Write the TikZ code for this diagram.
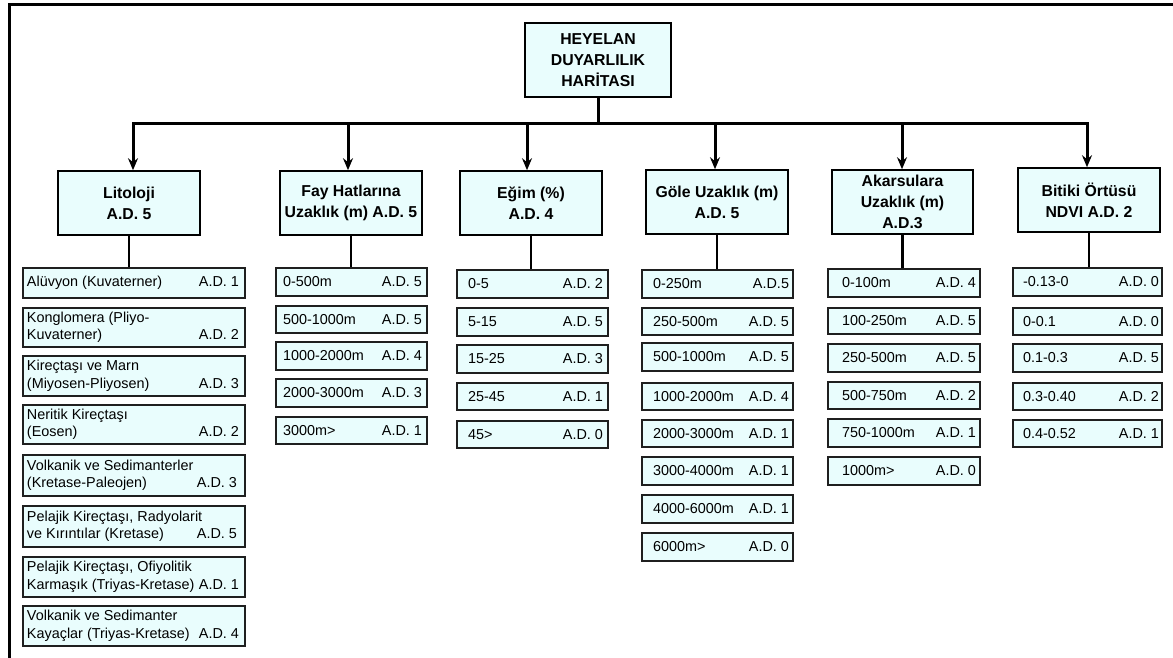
\documentclass[tikz,border=0pt]{standalone}
\usepackage{fontspec}
\setmainfont{Liberation Sans}
\usetikzlibrary{arrows.meta}
\definecolor{cyanfill}{RGB}{233,253,253}
\newcommand\hdfont{\bfseries\fontsize{15.8}{21}\selectfont}
\newcommand\chfont{\fontsize{14.4}{17.5}\selectfont}
\tikzset{
  hbox/.style={draw=black, line width=1.6pt, fill=cyanfill, inner sep=0pt, align=center, font=\hdfont},
  cbox/.style={draw=black!88, line width=1.4pt, fill=cyanfill, inner sep=0pt, font=\chfont},
  bus/.style={line width=3pt, line cap=rect},
  arr/.style={line width=3pt, -{Stealth[length=12pt,width=10pt,inset=4pt]}},
  stem/.style={line width=2.4pt},
  frame/.style={line width=2.7pt}
}
% #1 name, #2 x left, #3 x right, #4 y top, #5 y bottom, #6 left pad, #7 right pad, #8 left text, #9 right text
\newcommand\cbx[9]{%
  \pgfmathsetmacro\cbW{#3-#2}%
  \pgfmathsetmacro\cbH{#5-#4}%
  \pgfmathsetmacro\cbX{(#2+#3)/2}%
  \pgfmathsetmacro\cbY{(#4+#5)/2}%
  \node[cbox,minimum width=\cbW pt,minimum height=\cbH pt] (#1) at (\cbX,\cbY)
    {\parbox{\cbW pt}{\parindent=0pt\leftskip=#6pt\rightskip=#7pt plus 1fil\parfillskip=0pt plus 1fil\relax
      #8\hspace{0pt plus 1filll}#9}};%
}
\begin{document}
\begin{tikzpicture}[x=1pt,y=-1pt]
\useasboundingbox (0,0) rectangle (1173,658);
\fill[white] (0,0) rectangle (1173,658);
% frame
\draw[frame] (9.5,658) -- (9.5,4.5) -- (1173,4.5);

% top node
\node[hbox, minimum width=146pt, minimum height=74pt] (top) at (598,60) {HEYELAN\\DUYARLILIK\\HARİTASI};

% level 2
\node[hbox, minimum width=142pt, minimum height=64pt] (lit)  at (129,203) {Litoloji\\A.D. 5};
\node[hbox, minimum width=142pt, minimum height=64pt] (fay)  at (351,203) {Fay Hatlarına\\Uzaklık (m) A.D. 5};
\node[hbox, minimum width=142pt, minimum height=64pt] (egim) at (531,203) {Eğim (\%)\\A.D. 4};
\node[hbox, minimum width=142pt, minimum height=64pt] (gole) at (717,202) {Göle Uzaklık (m)\\A.D. 5};
\node[hbox, minimum width=141pt, minimum height=64pt] (akar) at (902.5,202) {Akarsulara\\Uzaklık (m)\\A.D.3};
\node[hbox, minimum width=142pt, minimum height=64pt] (bit)  at (1089,200) {Bitiki Örtüsü\\NDVI A.D. 2};

% Litoloji children
\cbx{l1}{23}{245}{268}{298}{4}{6}{Alüvyon (Kuvaterner)}{A.D. 1}
\cbx{l2}{23}{245}{308}{347}{4}{6}{Konglomera (Pliyo-\\Kuvaterner)}{A.D. 2}
\cbx{l3}{23}{245}{356}{396}{4}{6}{Kireçtaşı ve Marn\\(Miyosen-Pliyosen)}{A.D. 3}
\cbx{l4}{23}{245}{405}{444}{4}{6}{Neritik Kireçtaşı\\(Eosen)}{A.D. 2}
\cbx{l5}{23}{245}{455}{496}{4}{8}{Volkanik ve Sedimanterler\\(Kretase-Paleojen)}{A.D. 3}
\cbx{l6}{23}{245}{506}{547}{4}{8}{Pelajik Kireçtaşı, Radyolarit\\ve Kırıntılar (Kretase)}{A.D. 5}
\cbx{l7}{23}{245}{557}{597}{4}{6}{Pelajik Kireçtaşı, Ofiyolitik\\Karmaşık (Triyas-Kretase)}{A.D. 1}
\cbx{l8}{23}{245}{606}{646}{4}{6}{Volkanik ve Sedimanter\\Kayaçlar (Triyas-Kretase)}{A.D. 4}

% Fay children
\cbx{f1}{276}{427}{268}{296}{7}{5}{0-500m}{A.D. 5}
\cbx{f2}{276}{427}{306}{333}{7}{5}{500-1000m}{A.D. 5}
\cbx{f3}{276}{427}{342}{370}{7}{5}{1000-2000m}{A.D. 4}
\cbx{f4}{276}{427}{379}{407}{7}{5}{2000-3000m}{A.D. 3}
\cbx{f5}{276}{427}{417}{444}{7}{5}{3000m>}{A.D. 1}

% Egim children
\cbx{e1}{457}{608}{270}{298}{11}{5}{0-5}{A.D. 2}
\cbx{e2}{457}{608}{308}{336}{11}{5}{5-15}{A.D. 5}
\cbx{e3}{457}{608}{345}{373}{11}{5}{15-25}{A.D. 3}
\cbx{e4}{457}{608}{383}{410}{11}{5}{25-45}{A.D. 1}
\cbx{e5}{457}{608}{421}{448}{11}{5}{45>}{A.D. 0}

% Gole children
\cbx{g1}{642}{793}{270}{298}{11}{4}{0-250m}{A.D.5}
\cbx{g2}{642}{793}{308}{335}{11}{4}{250-500m}{A.D. 5}
\cbx{g3}{642}{793}{343}{371}{11}{4}{500-1000m}{A.D. 5}
\cbx{g4}{642}{793}{383}{410}{11}{4}{1000-2000m}{A.D. 4}
\cbx{g5}{642}{793}{420}{447}{11}{4}{2000-3000m}{A.D. 1}
\cbx{g6}{642}{793}{457}{485}{11}{4}{3000-4000m}{A.D. 1}
\cbx{g7}{642}{793}{495}{523}{11}{4}{4000-6000m}{A.D. 1}
\cbx{g8}{642}{793}{533}{561}{11}{4}{6000m>}{A.D. 0}

% Akarsulara children
\cbx{a1}{828}{980}{269}{297}{14}{4}{0-100m}{A.D. 4}
\cbx{a2}{828}{980}{308}{334}{14}{4}{100-250m}{A.D. 5}
\cbx{a3}{828}{980}{344}{372}{14}{4}{250-500m}{A.D. 5}
\cbx{a4}{828}{980}{382}{409}{14}{4}{500-750m}{A.D. 2}
\cbx{a5}{828}{980}{419}{447}{14}{4}{750-1000m}{A.D. 1}
\cbx{a6}{828}{980}{457}{485}{14}{4}{1000m>}{A.D. 0}

% Bitiki children
\cbx{n1}{1013}{1162}{268}{296}{10}{3}{-0.13-0}{A.D. 0}
\cbx{n2}{1013}{1162}{308}{335}{10}{3}{0-0.1}{A.D. 0}
\cbx{n3}{1013}{1162}{344}{372}{10}{3}{0.1-0.3}{A.D. 5}
\cbx{n4}{1013}{1162}{383}{410}{10}{3}{0.3-0.40}{A.D. 2}
\cbx{n5}{1013}{1162}{420}{447}{10}{3}{0.4-0.52}{A.D. 1}

% connectors
\coordinate (b1) at (133,124);
\coordinate (b2) at (348,124);
\coordinate (b3) at (527,124);
\coordinate (b4) at (715,124);
\coordinate (b5) at (902,124);
\coordinate (b6) at (1087,124);
\draw[bus] (top.south) -- (top.south |- b1);
\draw[bus] (b1) -- (b6);
\draw[arr] (b1) -- (b1 |- lit.north);
\draw[arr] (b2) -- (b2 |- fay.north);
\draw[arr] (b3) -- (b3 |- egim.north);
\draw[arr] (b4) -- (b4 |- gole.north);
\draw[arr] (b5) -- (b5 |- akar.north);
\draw[arr] (b6) -- (b6 |- bit.north);

\draw[stem] (lit.south) -- (lit.south |- l1.north);
\draw[stem] (fay.south) -- (fay.south |- f1.north);
\draw[stem] (egim.south) -- (egim.south |- e1.north);
\draw[stem] (gole.south) -- (gole.south |- g1.north);
\draw[stem] (akar.south) -- (akar.south |- a1.north);
\draw[stem] (bit.south) -- (bit.south |- n1.north);
\end{tikzpicture}
\end{document}
